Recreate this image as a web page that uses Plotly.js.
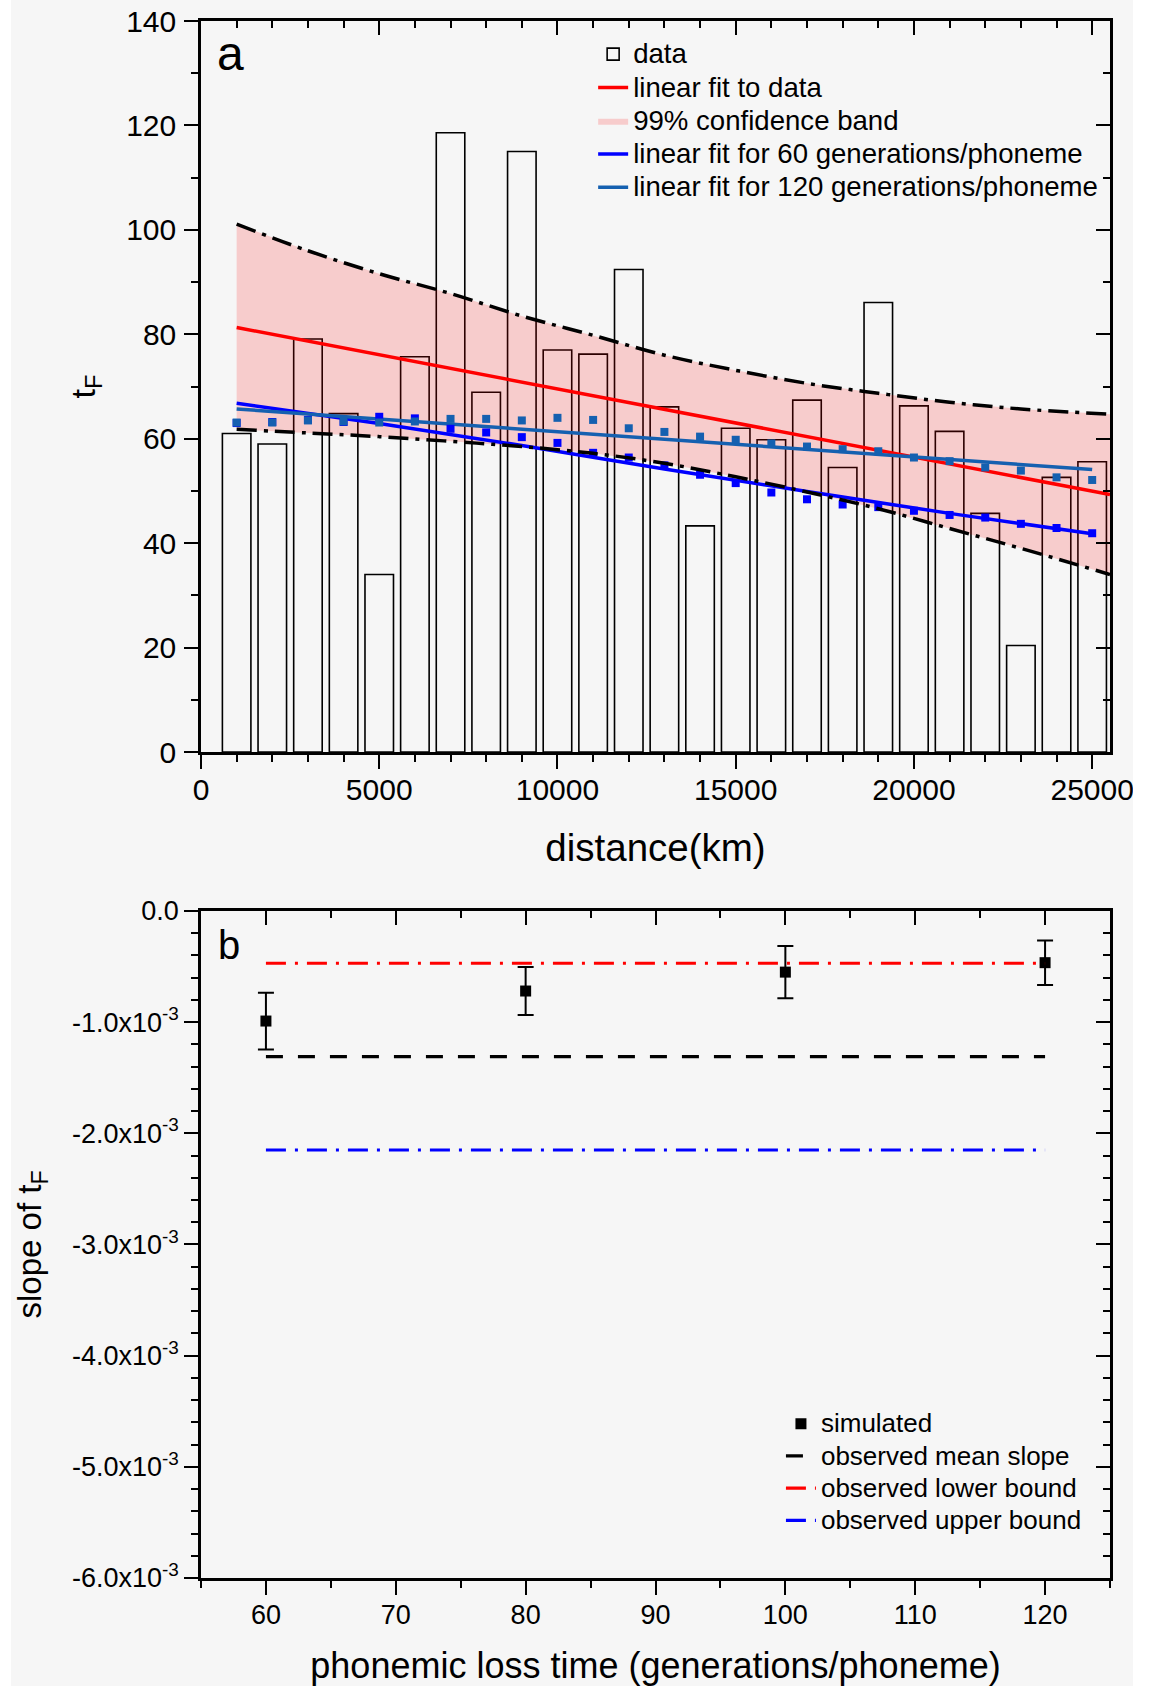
<!DOCTYPE html>
<html><head><meta charset="utf-8">
<script src="https://cdn.plot.ly/plotly-3.0.1.min.js"></script>
<style>
html,body{margin:0;padding:0;background:#ffffff;width:1153px;height:1686px;overflow:hidden}
#chart{position:absolute;left:11px;top:0px;width:1122px;height:1686px}
</style></head><body><div id="chart"></div>
<script>
// ---------- panel a data ----------
const distance = [1000,2000,3000,4000,5000,6000,7000,8000,9000,10000,11000,12000,13000,14000,15000,16000,17000,18000,19000,20000,21000,22000,23000,24000,25000];
const tF = [61.0,59.0,79.1,64.8,34.0,75.7,118.6,68.9,115.0,77.0,76.2,92.4,66.1,43.3,62.0,59.8,67.4,54.5,86.1,66.3,61.4,45.7,20.4,52.6,55.6];
const sim60 = [63.0,63.2,63.6,63.2,64.2,63.9,61.9,61.2,60.3,59.2,57.3,56.4,54.9,53.1,51.5,49.7,48.4,47.4,46.9,46.2,45.4,44.9,43.7,42.9,41.9];
const sim120 = [63.1,63.1,63.5,63.3,63.1,63.3,63.8,63.8,63.5,64.0,63.6,62.0,61.3,60.4,59.8,59.1,58.5,58.0,57.6,56.4,55.7,54.5,53.9,52.6,52.1];
const fitX = [1000,25500];
const fitY = [81.3,49.3];
const fit60X = [1000,5000,9000,13000,17000,21000,25000];
const fit60Y = [66.8,62.9,58.7,54.2,49.9,45.7,41.8];
const fit120X = [1000,25000];
const fit120Y = [65.7,54.1];
const bandX = [1000,3000,5000,7000,9000,11000,13000,15000,17000,19000,21000,23000,25500];
const bandHigh = [101.1,96.0,91.6,87.8,83.5,79.8,76.0,73.1,70.6,68.7,67.0,65.7,64.7];
const bandLow = [61.8,61.1,60.4,59.5,58.5,57.2,55.3,52.7,49.8,46.6,42.8,39.0,34.0];
const legendA = ['data','linear fit to data','99% confidence band','linear fit for 60 generations/phoneme','linear fit for 120 generations/phoneme'];

// ---------- panel b data ----------
const lossTime = [60,80,100,120];
const slopeSim = [-0.99e-3,-0.72e-3,-0.55e-3,-0.465e-3];
const slopeErr = [0.255e-3,0.215e-3,0.235e-3,0.2e-3];
const obsX = [60,120];
const obsMean = [-1.31e-3,-1.31e-3];
const obsLower = [-0.47e-3,-0.47e-3];
const obsUpper = [-2.15e-3,-2.15e-3];
const slopeTickVals = [0,-0.001,-0.002,-0.003,-0.004,-0.005,-0.006];
const slopeTickText = ['0.0','-1.0x10<sup>-3</sup>','-2.0x10<sup>-3</sup>','-3.0x10<sup>-3</sup>','-4.0x10<sup>-3</sup>','-5.0x10<sup>-3</sup>','-6.0x10<sup>-3</sup>'];
const legendB = ['simulated','observed mean slope','observed lower bound','observed upper bound'];

const FONT = 'Liberation Sans, Arial, Helvetica, sans-serif';
const STEEL = '#1560b0';
const la = s => '<span style="font-size:27.6px">' + s + '</span>';
const lb = s => '<span style="font-size:26px">' + s + '</span>';

const traces = [
  {type:'bar', x:distance, y:tF, width:800, name:la(legendA[0]), legendrank:1,
   marker:{color:'rgba(0,0,0,0)', line:{color:'#000', width:1.6}}, xaxis:'x', yaxis:'y'},
  {type:'scatter', mode:'lines', x:bandX, y:bandLow, line:{width:0}, showlegend:false, hoverinfo:'skip', xaxis:'x', yaxis:'y'},
  {type:'scatter', mode:'lines', x:bandX, y:bandHigh, fill:'tonexty', fillcolor:'rgba(255,0,0,0.17)', line:{width:0},
   name:la(legendA[2]), legendrank:3, hoverinfo:'skip', xaxis:'x', yaxis:'y'},
  {type:'scatter', mode:'lines', x:fitX, y:fitY, line:{color:'#ff0000', width:3.5}, name:la(legendA[1]), legendrank:2, xaxis:'x', yaxis:'y'},
  {type:'scatter', mode:'lines', x:fit60X, y:fit60Y, line:{color:'#0000ff', width:3.5, shape:'spline'}, name:la(legendA[3]), legendrank:4, xaxis:'x', yaxis:'y'},
  {type:'scatter', mode:'lines', x:fit120X, y:fit120Y, line:{color:STEEL, width:3.5}, name:la(legendA[4]), legendrank:5, xaxis:'x', yaxis:'y'},
  {type:'scatter', mode:'markers', x:distance, y:sim60, marker:{symbol:'square', size:8, color:'#0000ff'}, showlegend:false, xaxis:'x', yaxis:'y'},
  {type:'scatter', mode:'markers', x:distance, y:sim120, marker:{symbol:'square', size:8, color:STEEL}, showlegend:false, xaxis:'x', yaxis:'y'},
  // band boundaries on the frame axes (same ranges as x / y)
  {type:'scatter', mode:'lines', x:bandX, y:bandHigh, line:{color:'#000', width:3.5, dash:'20px,7px,4px,7px', shape:'spline'}, showlegend:false, xaxis:'x3', yaxis:'y3'},
  {type:'scatter', mode:'lines', x:bandX, y:bandLow, line:{color:'#000', width:3.5, dash:'20px,7px,4px,7px', shape:'spline'}, showlegend:false, xaxis:'x3', yaxis:'y3'},
  // panel b
  {type:'scatter', mode:'lines', x:obsX, y:obsMean, line:{color:'#000', width:3.2, dash:'17px,15px'}, name:lb(legendB[1]), legend:'legend2', legendrank:2, xaxis:'x4', yaxis:'y4'},
  {type:'scatter', mode:'lines', x:obsX, y:obsLower, line:{color:'#ff0000', width:3.2, dash:'20px,9px,3px,9px'}, name:lb(legendB[2]), legend:'legend2', legendrank:3, xaxis:'x4', yaxis:'y4'},
  {type:'scatter', mode:'lines', x:obsX, y:obsUpper, line:{color:'#0000ff', width:3.2, dash:'20px,9px,3px,9px'}, name:lb(legendB[3]), legend:'legend2', legendrank:4, xaxis:'x4', yaxis:'y4'},
  {type:'scatter', mode:'markers', x:lossTime, y:slopeSim, name:lb(legendB[0]), legend:'legend2', legendrank:1,
   marker:{symbol:'square', size:11, color:'#000'},
   error_y:{type:'data', array:slopeErr, visible:true, color:'#000', thickness:2, width:8}, xaxis:'x2', yaxis:'y2'}
];

const axBase = {showline:true, linecolor:'#000', linewidth:2.5, showgrid:false, zeroline:false,
  ticks:'outside', ticklen:14, tickwidth:2, tickcolor:'#000', ticklabeloverflow:'allow', exponentformat:'none', separatethousands:false};
const minorOut = d => ({tickmode:'linear', tick0:0, dtick:d, ticks:'outside', ticklen:7, tickwidth:2, tickcolor:'#000', showgrid:false});
const minorIn = d => ({tickmode:'linear', tick0:0, dtick:d, ticks:'inside', ticklen:7, tickwidth:2, tickcolor:'#000', showgrid:false});

const layout = {
  width:1122, height:1686,
  paper_bgcolor:'#f6f6f6', plot_bgcolor:'rgba(0,0,0,0)',
  margin:{l:190, r:23, t:21, b:108},
  font:{family:FONT, color:'#000'},
  showlegend:true,
  xaxis: Object.assign({}, axBase, {domain:[0,1], anchor:'y', range:[0,25500], tickmode:'linear', tick0:0, dtick:5000, tickformat:'d',
     minor:minorOut(1000), tickfont:{size:30, family:FONT}, ticklabelstandoff:-5,
     title:{text:'distance(km)', font:{size:38.5, family:FONT}, standoff:30}}),
  yaxis: Object.assign({}, axBase, {domain:[0.5305,1], anchor:'x', range:[0,140], tickmode:'linear', tick0:0, dtick:20,
     minor:minorOut(10), tickfont:{size:30, family:FONT}, ticklabelstandoff:2,
     title:{text:'t<sub>F</sub>', font:{size:34, family:FONT}, standoff:21}}),
  xaxis3: Object.assign({}, axBase, {overlaying:'x', side:'top', anchor:'y', range:[0,25500], ticks:'inside', tickmode:'linear', tick0:0, dtick:5000,
     showticklabels:false, minor:minorIn(1000)}),
  yaxis3: Object.assign({}, axBase, {overlaying:'y', side:'right', anchor:'x', range:[0,140], ticks:'inside', tickmode:'linear', tick0:0, dtick:20,
     showticklabels:false, minor:minorIn(10)}),
  xaxis2: Object.assign({}, axBase, {domain:[0,1], anchor:'y2', range:[55,125], tickmode:'linear', tick0:0, dtick:10,
     minor:minorOut(5), tickfont:{size:27, family:FONT}, ticklabelstandoff:-3,
     title:{text:'phonemic loss time (generations/phoneme)', font:{size:36, family:FONT}, standoff:30}}),
  yaxis2: Object.assign({}, axBase, {domain:[0,0.4284], anchor:'x2', range:[-0.006,0], tickmode:'array', tickvals:slopeTickVals, ticktext:slopeTickText,
     minor:minorOut(0.0002), tickfont:{size:27, family:FONT},
     title:{text:'slope of t<sub>F</sub>', font:{size:33, family:FONT}, standoff:35}}),
  xaxis4: Object.assign({}, axBase, {overlaying:'x2', side:'top', anchor:'y2', range:[55,125], ticks:'inside', tickmode:'linear', tick0:0, dtick:10,
     showticklabels:false, minor:minorIn(5)}),
  yaxis4: Object.assign({}, axBase, {overlaying:'y2', side:'right', anchor:'x2', range:[-0.006,0], ticks:'inside', tickmode:'linear', tick0:0, dtick:0.001,
     showticklabels:false, minor:minorIn(0.0002)}),
  legend:{x:0.4314, y:0.9926, xanchor:'left', yanchor:'top', bgcolor:'rgba(0,0,0,0)', borderwidth:0,
     font:{size:23.3, family:FONT, color:'#000'}, traceorder:'normal', tracegroupgap:0},
  legend2:{x:0.638, y:0.1127, xanchor:'left', yanchor:'top', bgcolor:'rgba(0,0,0,0)', borderwidth:0,
     font:{size:22.5, family:FONT, color:'#000'}, traceorder:'normal', tracegroupgap:0},
  annotations:[
    {text:'a', xref:'x domain', yref:'y domain', x:0.015, y:0.995, xanchor:'left', yanchor:'top', showarrow:false, font:{size:48, family:FONT, color:'#000'}},
    {text:'b', xref:'x2 domain', yref:'y2 domain', x:0.016, y:0.985, xanchor:'left', yanchor:'top', showarrow:false, font:{size:40, family:FONT, color:'#000'}}
  ]
};

Plotly.newPlot('chart', traces, layout, {displayModeBar:false, responsive:false});
</script></body></html>
